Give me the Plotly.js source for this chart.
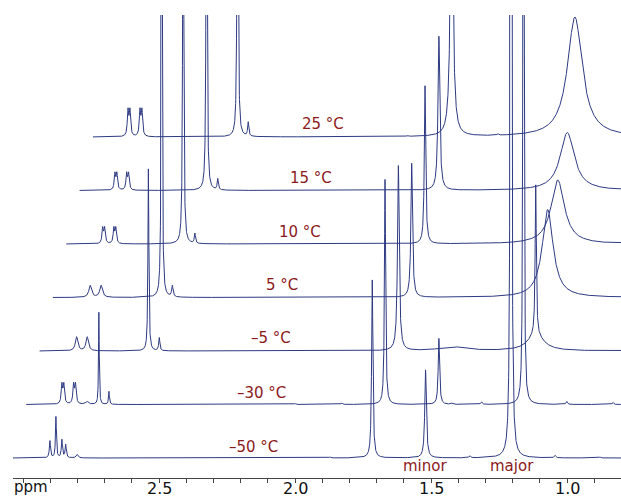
<!DOCTYPE html>
<html><head><meta charset="utf-8">
<script src="https://cdn.plot.ly/plotly-3.0.1.min.js"></script>
<style>html,body{margin:0;padding:0;background:#fff}</style>
</head><body><div id="chart" style="width:621px;height:501px"></div>
<script>
// Temperatures of the stacked 1H NMR spectra (bottom to top)
const temperatures = ['–50 °C', '–30 °C', '–5 °C', '5 °C', '10 °C', '15 °C', '25 °C'];

// Peak lists: [chemical shift (ppm), height, line width FWHM (ppm)]
const peaksM50 = [
  [2.901, 17, 0.005], [2.879, 41, 0.004], [2.857, 18, 0.005], [2.843, 13, 0.005], [2.801, 3.5, 0.008],
  [1.871, 1, 0.006], [1.716, 178, 0.0055], [1.520, 88, 0.007], [1.357, 2, 0.006],
  [1.206, 5000, 0.0022], [1.044, 2.5, 0.006], [0.879, 1, 0.006]
];
const peaksM30 = [
  [2.906, 19, 0.006], [2.899, 19, 0.006], [2.863, 19, 0.006], [2.856, 19, 0.006], [2.814, 3, 0.012],
  [2.770, 92, 0.003], [2.733, 13, 0.004], [2.049, 1, 0.006], [1.877, 1.5, 0.006],
  [1.718, 225, 0.005], [1.520, 66, 0.006], [1.473, 1, 0.006], [1.363, 2.5, 0.006],
  [1.209, 3000, 0.002], [1.050, 3, 0.006], [0.880, 2, 0.006]
];
const peaksM5 = [
  [2.901, 14, 0.011], [2.862, 14, 0.011], [2.637, 182, 0.004], [2.597, 13, 0.005],
  [1.718, 185, 0.0075], [1.517, 4, 0.12], [1.213, 150, 0.005], [1.213, 16, 0.07]
];
const peaksP5 = [
  [2.900, 12, 0.012], [2.860, 12, 0.012], [2.637, 800, 0.003], [2.598, 11, 0.006],
  [1.718, 134, 0.007], [1.218, 88, 0.048]
];
const peaksP10 = [
  [2.903, 15, 0.006], [2.896, 15, 0.006], [2.862, 15, 0.006], [2.855, 15, 0.006],
  [2.607, 800, 0.003], [2.564, 10, 0.005], [1.718, 158, 0.006], [1.230, 64, 0.059]
];
const peaksP15 = [
  [2.907, 16, 0.006], [2.900, 16, 0.006], [2.864, 16, 0.006], [2.857, 16, 0.006],
  [2.570, 800, 0.003], [2.529, 11, 0.005], [1.716, 154, 0.008], [1.244, 58, 0.0625]
];
const peaksP25 = [
  [2.908, 25, 0.006], [2.901, 25, 0.006], [2.864, 25, 0.006], [2.857, 25, 0.006],
  [2.505, 800, 0.003], [2.466, 14, 0.005], [1.881, 1, 0.006], [1.718, 300, 0.011],
  [1.548, 1.5, 0.006], [1.265, 120, 0.066]
];
const spectra = [peaksM50, peaksM30, peaksM5, peaksP5, peaksP10, peaksP15, peaksP25];

// Axis ticks
const majorTicks = [3.0, 2.5, 2.0, 1.5, 1.0];
const majorTickText = ['', '2.5', '2.0', '1.5', '1.0'];

// ---- styling / stacking (not data) ----
const X_SHIFT = 0.049, Y_SHIFT = 53.5, Y_BASE = 20;
const PPM_START = 3.037, PPM_END = 0.40, STEP = 0.0004;
const LINE = '#2e3a82', RED = '#8b1a1a';
const px2ppm = px => 3.0 - (px - 23) / 272;
const py2y = py => 478 - py;
const py2paper = py => (478 - py) / 463;

function buildTrace(peaks, k) {
  const xs = [];
  for (let p = PPM_START; p >= PPM_END; p -= STEP) xs.push(p);
  peaks.forEach(pk => xs.push(pk[0]));
  xs.sort((a, b) => b - a);
  const ys = xs.map(x => {
    let s = 0;
    for (const [c, h, w] of peaks) { const u = 2 * (x - c) / w; s += h / (1 + u * u); }
    return Y_BASE + Y_SHIFT * k + s;
  });
  return {
    type: 'scatter', mode: 'lines', name: temperatures[k],
    x: xs.map(x => x - X_SHIFT * k), y: ys,
    line: {color: LINE, width: 1}, hoverinfo: 'skip', showlegend: false
  };
}
const data = spectra.map((p, k) => buildTrace(p, k));

const labelPx = [[253, 447], [261, 393], [271, 338], [282, 285], [300, 232], [311, 178], [323, 124]];
const annotations = temperatures.map((t, k) => ({
  text: t, x: px2ppm(labelPx[k][0]), y: py2y(labelPx[k][1]), xref: 'x', yref: 'y',
  showarrow: false, xanchor: 'center', yanchor: 'middle',
  font: {family: 'DejaVu Sans', size: 15, color: RED}
}));
annotations.push({text: 'minor', x: px2ppm(425), y: py2y(466), xref: 'x', yref: 'y', showarrow: false,
  xanchor: 'center', yanchor: 'middle', font: {family: 'DejaVu Sans', size: 15, color: RED}});
annotations.push({text: 'major', x: px2ppm(512), y: py2y(466), xref: 'x', yref: 'y', showarrow: false,
  xanchor: 'center', yanchor: 'middle', font: {family: 'DejaVu Sans', size: 15, color: RED}});
// tick labels drawn close under the axis line, as in the reference
majorTicks.forEach((v, i) => {
  if (!majorTickText[i]) return;
  annotations.push({text: majorTickText[i], x: v, xref: 'x', y: py2paper(488.5), yref: 'paper',
    xanchor: 'center', yanchor: 'middle', showarrow: false,
    font: {family: 'DejaVu Sans', size: 16, color: '#111'}});
});
annotations.push({text: 'ppm', x: 0, xref: 'paper', xanchor: 'left', xshift: -1,
  y: py2paper(487), yref: 'paper', yanchor: 'middle', showarrow: false,
  font: {family: 'DejaVu Sans', size: 15, color: '#111'}});

const layout = {
  width: 621, height: 501,
  margin: {l: 13, r: 0, t: 15, b: 23},
  paper_bgcolor: '#fff', plot_bgcolor: '#fff',
  xaxis: {
    range: [px2ppm(13), px2ppm(621)], autorange: false,
    showline: true, linecolor: '#444', linewidth: 1, zeroline: false, showgrid: false,
    ticks: 'outside', ticklen: 5, tickcolor: '#444', tickwidth: 1,
    tickmode: 'array', tickvals: majorTicks, ticktext: majorTicks.map(() => ''),
    showticklabels: false,
    minor: {tickmode: 'linear', tick0: 0, dtick: 0.1, ticks: 'outside', ticklen: 4, tickcolor: '#444', showgrid: false}
  },
  yaxis: {range: [0, 463], autorange: false, visible: false},
  annotations: annotations
};
Plotly.newPlot('chart', data, layout, {displayModeBar: false, staticPlot: true});
</script></body></html>
